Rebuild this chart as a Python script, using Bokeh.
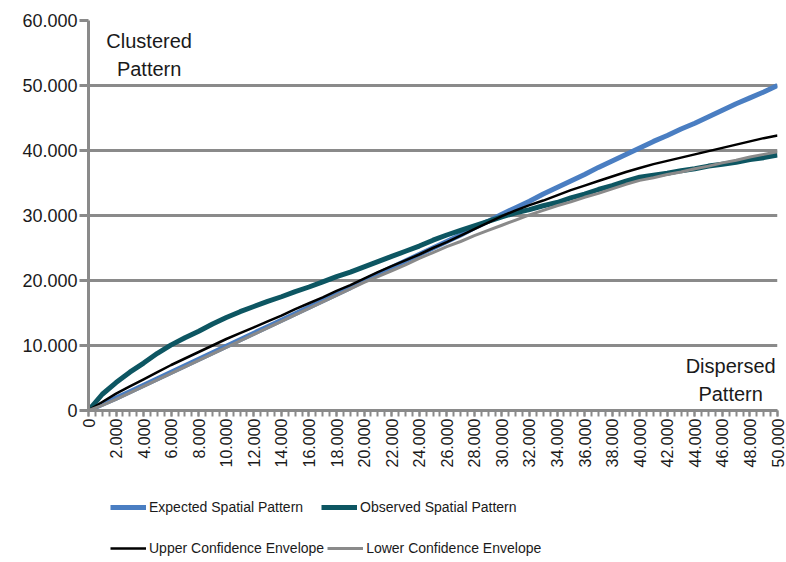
import math
from bokeh.plotting import figure
from bokeh.layouts import column
from bokeh.models import Range1d, FixedTicker, Legend, LegendItem, Label
from bokeh.embed import file_html
from bokeh.resources import INLINE

distance = [0, 1000, 2000, 3000, 4000, 5000, 6000, 7000, 8000, 9000,
            10000, 11000, 12000, 13000, 14000, 15000, 16000, 17000, 18000, 19000,
            20000, 21000, 22000, 23000, 24000, 25000, 26000, 27000, 28000, 29000,
            30000, 31000, 32000, 33000, 34000, 35000, 36000, 37000, 38000, 39000,
            40000, 41000, 42000, 43000, 44000, 45000, 46000, 47000, 48000, 49000, 50000]
expected = [0, 950, 1900, 2900, 3900, 4900, 5900, 6900, 7900, 8900,
            9900, 10900, 11900, 12900, 13900, 14900, 15900, 16900, 17900, 18900,
            20000, 21000, 22000, 23000, 24000, 25000, 26000, 27000, 28100, 29100,
            30200, 31200, 32200, 33300, 34300, 35300, 36300, 37400, 38400, 39400,
            40400, 41400, 42300, 43300, 44200, 45200, 46200, 47200, 48100, 49000, 50000]
observed = [0, 2500, 4300, 5900, 7300, 8800, 10100, 11200, 12200, 13300,
            14300, 15200, 16000, 16800, 17500, 18300, 19000, 19800, 20600, 21300,
            22100, 22900, 23700, 24500, 25300, 26200, 27000, 27700, 28400, 29100,
            29800, 30400, 30900, 31500, 32000, 32700, 33300, 34000, 34600, 35300,
            35900, 36200, 36500, 36900, 37200, 37600, 37900, 38200, 38600, 38900, 39300]
upper = [0, 1300, 2600, 3700, 4800, 5900, 7000, 8000, 9000, 10000,
         11000, 11900, 12800, 13700, 14600, 15600, 16500, 17400, 18400, 19300,
         20300, 21300, 22200, 23100, 24000, 25000, 25900, 26900, 27900, 28900,
         29900, 30800, 31600, 32300, 33100, 33900, 34600, 35300, 36000, 36700,
         37300, 37900, 38400, 38900, 39400, 39900, 40400, 40900, 41400, 41900, 42300]
lower = [0, 800, 1700, 2700, 3700, 4700, 5700, 6700, 7700, 8700,
         9700, 10700, 11700, 12700, 13700, 14700, 15700, 16700, 17700, 18700,
         19700, 20600, 21500, 22400, 23400, 24300, 25200, 26000, 26900, 27700,
         28500, 29300, 30100, 30800, 31500, 32100, 32800, 33400, 34100, 34800,
         35400, 35800, 36300, 36700, 37200, 37600, 38100, 38500, 39000, 39400, 39800]

series_names = ["Expected Spatial Pattern", "Observed Spatial Pattern",
                "Upper Confidence Envelope", "Lower Confidence Envelope"]

y_ticks = [0, 10000, 20000, 30000, 40000, 50000, 60000]
y_tick_labels = ["0", "10.000", "20.000", "30.000", "40.000", "50.000", "60.000"]
x_ticks = [0, 2000, 4000, 6000, 8000, 10000, 12000, 14000, 16000, 18000, 20000,
           22000, 24000, 26000, 28000, 30000, 32000, 34000, 36000, 38000, 40000,
           42000, 44000, 46000, 48000, 50000]
x_tick_labels = ["0", "2.000", "4.000", "6.000", "8.000", "10.000", "12.000", "14.000",
                 "16.000", "18.000", "20.000", "22.000", "24.000", "26.000", "28.000",
                 "30.000", "32.000", "34.000", "36.000", "38.000", "40.000", "42.000",
                 "44.000", "46.000", "48.000", "50.000"]
x_minor_ticks = list(range(0, 50001, 500))

FONT = "Liberation Sans"
GRID = "#8a8a8a"
TXT = "#1a1a1a"
STYLES = [dict(line_color="#4a7ec2", line_width=5), dict(line_color="#0d5662", line_width=5),
          dict(line_color="#000000", line_width=2.5), dict(line_color="#8a8a8a", line_width=3)]
SERIES = [expected, observed, upper, lower]

p = figure(width=786, height=474, output_backend="svg", toolbar_location=None,
           x_range=Range1d(0, 50000), y_range=Range1d(0, 60000),
           min_border_left=88, min_border_right=9, min_border_top=20, min_border_bottom=64)
p.outline_line_color = None

p.xgrid.grid_line_color = None
p.ygrid.grid_line_color = GRID
p.ygrid.grid_line_width = 3
p.ygrid.ticker = FixedTicker(ticks=y_ticks)

p.yaxis.ticker = FixedTicker(ticks=y_ticks)
p.yaxis.major_label_overrides = dict(zip(y_ticks, y_tick_labels))
p.yaxis.axis_line_color = GRID
p.yaxis.axis_line_width = 3
p.yaxis.major_tick_line_color = GRID
p.yaxis.major_tick_line_width = 3
p.yaxis.major_tick_out = 9
p.yaxis.major_tick_in = 0
p.yaxis.minor_tick_line_color = None
p.yaxis.major_label_text_font = FONT
p.yaxis.major_label_text_font_size = "18px"
p.yaxis.major_label_text_color = TXT
p.yaxis.major_label_standoff = 2

p.xaxis.ticker = FixedTicker(ticks=x_ticks, minor_ticks=x_minor_ticks)
p.xaxis.major_label_overrides = dict(zip(x_ticks, x_tick_labels))
p.xaxis.axis_line_color = GRID
p.xaxis.axis_line_width = 3
p.xaxis.major_tick_line_color = GRID
p.xaxis.major_tick_line_width = 2
p.xaxis.minor_tick_line_color = GRID
p.xaxis.minor_tick_line_width = 2
p.xaxis.major_tick_out = 6
p.xaxis.major_tick_in = 0
p.xaxis.minor_tick_out = 6
p.xaxis.minor_tick_in = 0
p.xaxis.major_label_orientation = math.pi / 2
p.xaxis.major_label_text_font = FONT
p.xaxis.major_label_text_font_size = "16px"
p.xaxis.major_label_text_color = TXT
p.xaxis.major_label_standoff = 2

for ys, st in zip(SERIES, STYLES):
    p.line(distance, ys, line_join="round", **st)

for txt, xx, yy in [("Clustered", 4400, 56900), ("Pattern", 4400, 52600),
                    ("Dispersed", 46600, 6900), ("Pattern", 46600, 2600)]:
    p.add_layout(Label(x=xx, y=yy, text=txt, text_align="center", text_baseline="middle",
                       text_font=FONT, text_font_size="20px", text_color=TXT))

# legend panel below the chart (series drawn outside its visible range, only legend shows)
pl = figure(width=786, height=86, output_backend="svg", toolbar_location=None,
            x_range=Range1d(-2, -1), y_range=Range1d(-2, -1),
            min_border_left=88, min_border_right=9, min_border_top=0, min_border_bottom=0)
pl.axis.visible = False
pl.grid.visible = False
pl.outline_line_color = None
leg_renderers = [pl.line(distance, ys, **st) for ys, st in zip(SERIES, STYLES)]

def make_legend(idx, loc, spacing):
    items = [LegendItem(label=series_names[i], renderers=[leg_renderers[i]]) for i in idx]
    return Legend(items=items, orientation="horizontal", location=loc, spacing=spacing,
                  glyph_width=36, glyph_height=20, label_standoff=3, padding=0, margin=0,
                  label_text_font=FONT, label_text_font_size="14px", label_text_color=TXT,
                  label_height=20, border_line_color=None, background_fill_alpha=0)

pl.add_layout(make_legend([0, 1], (22, 43), 18), "center")
pl.add_layout(make_legend([2, 3], (22, 2), 3), "center")

layout = column(p, pl, spacing=0)
open("out.html", "w").write(file_html(layout, INLINE))
